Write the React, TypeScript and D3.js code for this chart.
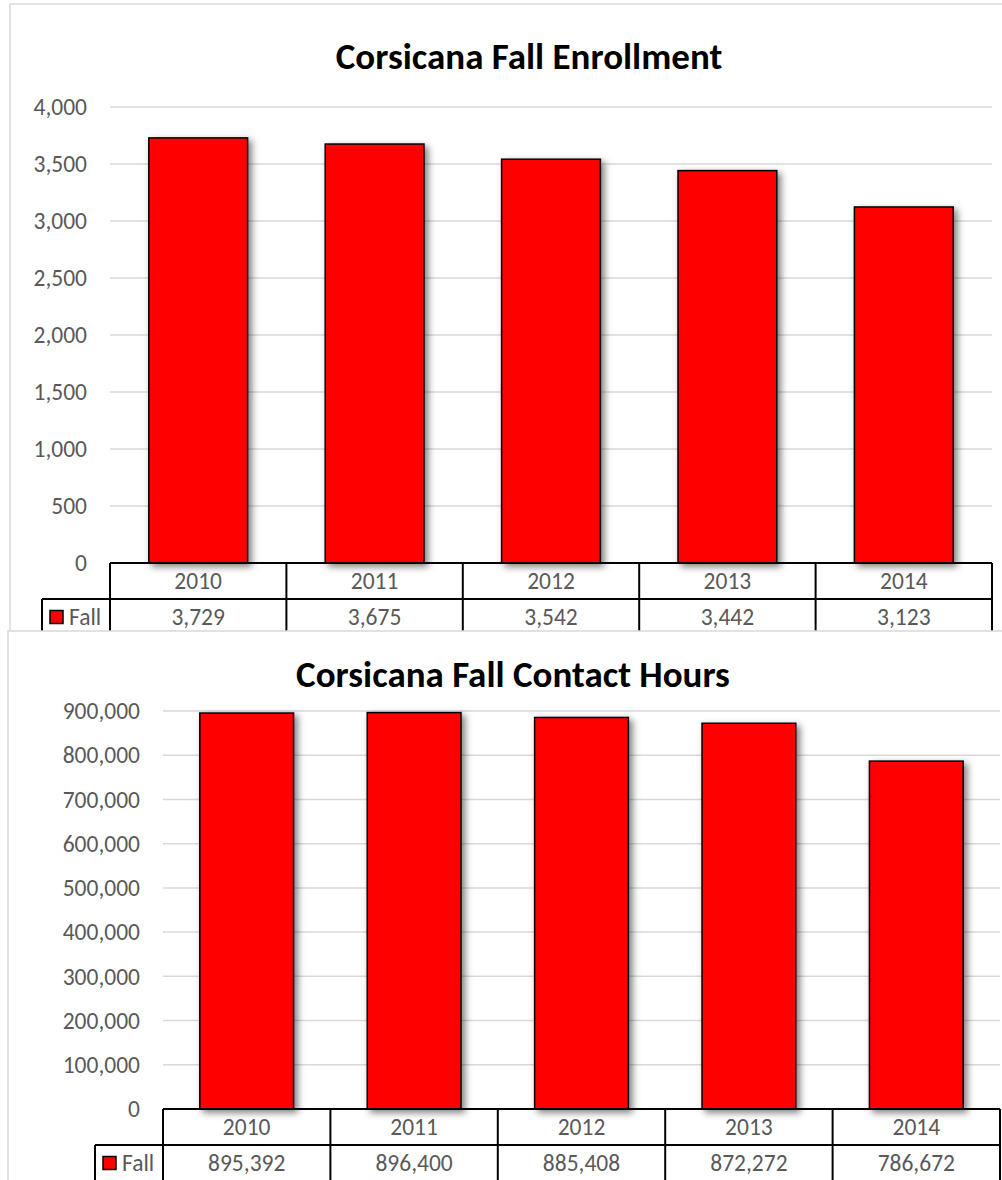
import React from "react";
import * as d3 from "d3";

const years = ["2010", "2011", "2012", "2013", "2014"];
const enrollment = [3729, 3675, 3542, 3442, 3123];
const contactHours = [895392, 896400, 885408, 872272, 786672];
const enrollTicks = [0, 500, 1000, 1500, 2000, 2500, 3000, 3500, 4000];
const hoursTicks = [0, 100000, 200000, 300000, 400000, 500000, 600000, 700000, 800000, 900000];
const seriesName = "Fall";

const FONT = "Calibri, Carlito, Lato, 'Open Sans', sans-serif";
const GRID = "#d9d9d9";
const LABEL = "#595959";
const LABEL_SIZE = 23.5;
const TITLE_SIZE = 37;
const fmt = d3.format(",");

type ChartProps = {
  title: string;
  values: number[];
  ticks: number[];
  max: number;
  frame: { x: number; y: number };
  titleX: number;
  titleY: number;
  plotLeft: number;
  plotRight: number;
  plotTop: number;
  plotBottom: number;
  labelRight: number;
  legendLeft: number;
  rowH: number;
};

function Chart(p: ChartProps) {
  const x = d3.scaleBand<string>().domain(years).range([p.plotLeft, p.plotRight]).paddingInner(0.44).paddingOuter(0.22);
  const xc = d3.scaleBand<string>().domain(years).range([p.plotLeft, p.plotRight]).padding(0);
  const y = d3.scaleLinear().domain([0, p.max]).range([p.plotBottom, p.plotTop]);
  const r1 = p.plotBottom;
  const r2 = p.plotBottom + p.rowH;
  const r3 = p.plotBottom + 2 * p.rowH;
  return (
    <g>
      <rect x={p.frame.x} y={p.frame.y} width={1100} height={700} fill="#fff" stroke={GRID} strokeWidth={1.5} />
      <text x={p.titleX} y={p.titleY} textAnchor="middle" fontFamily={FONT} fontWeight="bold" fontSize={TITLE_SIZE} fill="#000">
        {p.title}
      </text>
      {p.ticks.map((t) => (
        <g key={t}>
          {t > 0 && <line x1={p.plotLeft} x2={p.plotRight} y1={y(t)} y2={y(t)} stroke={GRID} strokeWidth={1.5} />}
          <text x={p.labelRight} y={y(t)} dy="0.35em" textAnchor="end" fontFamily={FONT} fontSize={LABEL_SIZE} fill={LABEL}>
            {fmt(t)}
          </text>
        </g>
      ))}
      {years.map((yr, i) => (
        <rect
          key={yr}
          x={x(yr)}
          y={y(p.values[i])}
          width={x.bandwidth()}
          height={p.plotBottom - y(p.values[i])}
          fill="#ff0000"
          stroke="#000"
          strokeWidth={1.5}
          filter="url(#shadow)"
        />
      ))}
      <g stroke="#000" strokeWidth={2} fill="none">
        <line x1={p.plotLeft} x2={p.plotRight} y1={r1} y2={r1} />
        <line x1={p.legendLeft} x2={p.plotRight} y1={r2} y2={r2} />
        <line x1={p.legendLeft} x2={p.plotRight} y1={r3} y2={r3} />
        <line x1={p.legendLeft} x2={p.legendLeft} y1={r2} y2={r3} />
        {years.map((yr) => (
          <line key={yr} x1={xc(yr)} x2={xc(yr)} y1={r1} y2={r3} />
        ))}
        <line x1={p.plotRight} x2={p.plotRight} y1={r1} y2={r3} />
      </g>
      {years.map((yr, i) => (
        <g key={yr}>
          <text x={(xc(yr) as number) + xc.bandwidth() / 2} y={(r1 + r2) / 2} dy="0.35em" textAnchor="middle" fontFamily={FONT} fontSize={LABEL_SIZE} fill={LABEL}>
            {yr}
          </text>
          <text x={(xc(yr) as number) + xc.bandwidth() / 2} y={(r2 + r3) / 2} dy="0.35em" textAnchor="middle" fontFamily={FONT} fontSize={LABEL_SIZE} fill={LABEL}>
            {fmt(p.values[i])}
          </text>
        </g>
      ))}
      <rect x={p.legendLeft + 8} y={(r2 + r3) / 2 - 6.5} width={13} height={13} fill="#ff0000" stroke="#000" strokeWidth={1.5} />
      <text x={p.legendLeft + 27} y={(r2 + r3) / 2} dy="0.35em" fontFamily={FONT} fontSize={LABEL_SIZE} fill={LABEL}>
        {seriesName}
      </text>
    </g>
  );
}

export default function App() {
  return (
    <svg width={1002} height={1180} style={{ position: "absolute", left: 0, top: 0, background: "#fff" }}>
      <defs>
        <filter id="shadow" x="-20%" y="-20%" width="140%" height="140%">
          <feDropShadow dx={3.5} dy={3} stdDeviation={3.5} floodColor="#000" floodOpacity={0.5} />
        </filter>
      </defs>
      <rect x={0} y={0} width={1002} height={1180} fill="#fff" />
      <Chart
        title="Corsicana Fall Enrollment"
        values={enrollment}
        ticks={enrollTicks}
        max={4000}
        frame={{ x: 10, y: 4 }}
        titleX={529}
        titleY={69}
        plotLeft={110}
        plotRight={992}
        plotTop={107}
        plotBottom={563}
        labelRight={87}
        legendLeft={42}
        rowH={36}
      />
      <Chart
        title="Corsicana Fall Contact Hours"
        values={contactHours}
        ticks={hoursTicks}
        max={900000}
        frame={{ x: 8, y: 631 }}
        titleX={513}
        titleY={687}
        plotLeft={163}
        plotRight={1000}
        plotTop={711}
        plotBottom={1109}
        labelRight={140}
        legendLeft={95}
        rowH={36}
      />
    </svg>
  );
}
